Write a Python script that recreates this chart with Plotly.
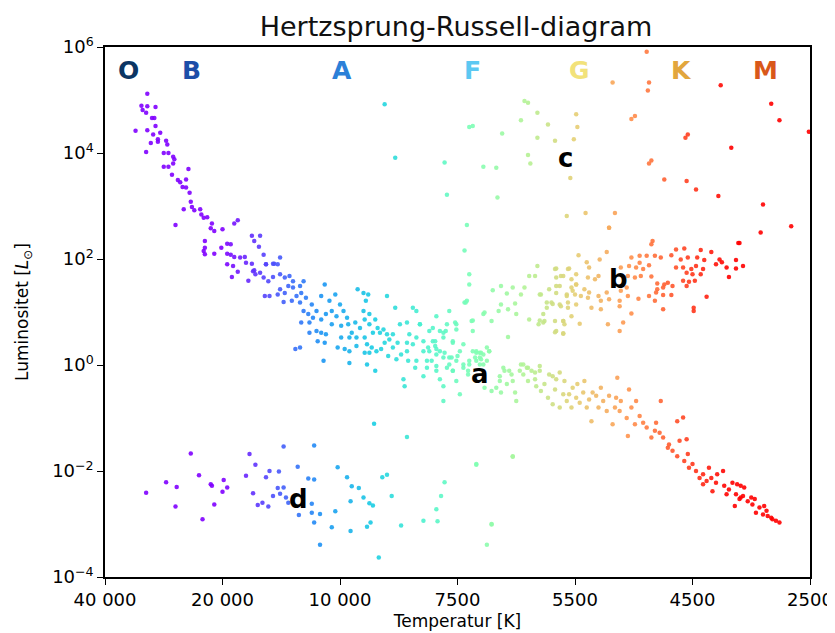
import numpy as np
import plotly.graph_objects as go

# x = position on the spectral/temperature scale (0 = 40 000 K ... 6 = 2500 K)
# y = log10 of luminosity in solar units
tick_pos = [0, 1, 2, 3, 4, 5, 6]
tick_labels = ["40 000", "20 000", "10 000", "7500", "5500", "4500", "2500"]
ytick_exp = [-4, -2, 0, 2, 4, 6]

ms_hot = [(.36,5.12),(.31,4.89),(.36,4.88),(.43,4.87),(.32,4.81),(.35,4.76),(.40,4.66),(.42,4.66),
    (.43,4.51),(.26,4.42),(.36,4.43),(.41,4.35),(.47,4.38),(.45,4.26),(.45,4.21),(.39,4.19),(.52,4.23),
    (.53,4.16),(.35,4.02),(.50,4.0),(.54,4.0),(.58,3.93),(.59,3.88),(.58,3.80),(.50,3.74),(.54,3.74),
    (.71,3.70),(.57,3.59),(.62,3.49),(.64,3.45),(.69,3.50),(.66,3.36),(.69,3.35),(.72,3.25),(.73,3.08),
    (.74,2.98),(.76,2.92),(.67,2.94),(.81,2.94),(.82,2.84),(.84,2.78),(.87,2.79),(.60,2.64),(.91,2.67),
    (.90,2.58),(.93,2.53),(1.0,2.56),(1.10,2.67),(1.13,2.73),(.85,2.34),(.85,2.21),(.85,2.09),(.84,2.15),
    (.93,2.1),(.99,2.21),(1.04,2.29),(1.07,2.28),(1.04,2.10),(1.07,2.08),(1.10,2.04),(1.15,2.03),
    (1.19,2.04),(1.25,2.44),(1.32,2.44),(1.27,2.34),(1.31,2.23),(1.35,2.08),(1.20,1.93),(1.25,1.91),
    (1.04,1.90),(1.09,1.87),(1.13,1.76),(1.08,1.66),(1.27,1.79),(1.28,1.71),(1.22,1.59),(1.37,1.90),
    (1.44,1.91),(1.49,2.03)]

ms_mid = [(1.26,1.77),(1.32,1.74),(1.37,1.90),(1.43,1.91),(1.47,1.90),(1.35,1.65),(1.39,1.58),(1.43,1.66),
    (1.49,1.71),(1.53,1.65),(1.57,1.68),(1.60,1.58),(1.56,1.49),(1.49,1.43),(1.60,1.46),(1.66,1.49),
    (1.69,1.58),(1.67,1.36),(1.63,1.30),(1.59,1.21),(1.52,1.19),(1.47,1.33),(1.40,1.30),(1.36,1.30),
    (1.53,1.36),(1.66,1.18),(1.71,1.27),(1.76,1.14),(1.69,1.02),(1.73,0.96),(1.77,0.89),(1.74,0.80),
    (1.67,0.80),(1.80,1.02),(1.84,1.30),(1.87,1.52),(1.91,1.21),(1.96,1.33),(2.00,1.14),(1.93,1.02),
    (1.88,0.96),(1.84,0.86),(1.80,0.64),(1.84,0.61),(1.88,0.58),(1.81,0.45),(1.87,0.42),(1.74,0.61),
    (1.93,0.77),(1.97,0.92),(2.03,1.02),(2.06,0.89),(2.01,0.74),(2.07,0.77),(2.10,0.61),(2.01,0.52),
    (2.08,0.52),(1.98,0.33),(2.04,0.30),(2.08,0.26),(2.14,0.36),(2.14,0.52),(2.17,0.70),(2.13,0.80),
    (2.15,1.43),(2.20,1.36),(2.24,1.33),(2.22,1.21),(2.20,1.02),(2.25,0.96),(2.21,0.86),(2.25,0.77),
    (2.30,0.86),(2.32,0.70),(2.28,0.61),(2.34,0.61),(2.37,0.67),(2.40,0.58),(2.21,0.52),(2.23,0.39),
    (2.27,0.33),(2.21,0.23),(2.25,0.23),(2.31,0.26),(2.35,0.30),(2.38,0.42),(2.42,0.48),(2.45,0.58),
    (2.47,1.08),(2.40,1.30),(2.51,0.77),(2.57,0.80),(2.59,0.58),(2.65,0.52),(2.62,0.39),(2.57,0.42),
    (2.49,0.42),(2.45,0.33),(2.41,0.17),(2.48,0.11),(2.52,0.20),(2.57,0.26),(2.58,0.08),(2.65,0.08),
    (2.64,-0.05),(2.54,-0.27),(2.55,-0.40),(2.71,0.26),(2.71,0.45),(2.68,0.77),(2.76,0.64),(2.79,0.45),
    (2.75,0.33),(2.81,0.36),(2.82,0.20),(2.85,0.26),(2.88,0.14),(2.78,0.08),(2.74,-0.05),(2.71,-0.21),
    (2.82,-0.11),(2.85,-0.27),(2.88,-0.40),(2.93,0.14),(2.93,0.01),(2.96,-0.11),(2.99,-0.30),(3.02,-0.55),
    (2.99,0.08),(3.02,0.26),(2.96,0.42),(2.90,0.64),(2.88,0.61),(2.99,0.77),(2.93,1.02),(2.82,0.92),
    (3.08,1.21),(3.10,1.52),(3.12,0.83),(3.13,0.64),(3.16,0.23),(3.19,0.14),(3.22,0.20),(3.10,0.08),
    (3.05,-0.05),(3.09,-0.18),(3.22,0.01),(3.25,0.33),(3.22,0.96),(2.88,-0.68),(2.62,1.08),(2.65,1.02),
    (2.23,0.01),(2.30,-0.11),(2.08,0.04),(1.66,0.33),(1.62,0.30),(1.86,0.08),
    (2.68,0.77),(2.79,0.70),(2.85,0.64),(2.91,0.77),(2.98,0.80),(2.99,0.67),(2.88,0.52),(2.81,0.45),
    (2.96,0.45),(3.05,0.39),(2.76,0.26),(2.82,0.30),(2.89,0.23),(2.95,0.14),(3.00,0.17),(2.74,0.08),
    (2.82,-0.02),(2.91,-0.05),(2.96,-0.11),(3.13,0.26),(3.19,0.23),(3.20,0.11),(3.16,0.08),(3.27,0.26),
    (3.25,0.08),(3.05,0.01),(3.09,-0.11)]

ms_cool = [(3.16,0.26),(3.15,0.14),(3.20,0.23),(3.19,0.01),(3.27,0.26),(3.10,0.01),(3.23,-0.43),
    (3.29,-0.49),(3.33,-0.43),(3.36,-0.30),(3.37,-0.52),(3.42,-0.36),(3.46,-0.18),(3.47,-0.30),
    (3.49,-0.52),(3.50,-0.68),(3.54,0.01),(3.56,-0.18),(3.59,-0.05),(3.60,-0.30),(3.63,-0.11),
    (3.66,-0.27),(3.67,-0.40),(3.70,-0.02),(3.71,-0.49),(3.74,-0.36),(3.77,-0.62),(3.78,-0.18),
    (3.81,-0.74),(3.83,-0.46),(3.84,-0.27),(3.87,-0.80),(3.90,-0.55),(3.91,-0.30),(3.93,-0.68),
    (3.95,-0.55),(3.97,-0.80),(3.98,-0.43),(4.01,-0.62),(4.02,-0.36),(4.04,-0.71),(4.07,-0.52),
    (4.08,-0.30),(4.10,-0.80),(4.12,-0.65),(4.14,-1.06),(4.15,-0.52),(4.18,-0.58),(4.20,-0.80),
    (4.22,-0.43),(4.24,-0.68),(4.27,-0.87),(4.29,-0.58),(4.32,-1.12),(4.34,-0.80),(4.35,-0.62),
    (4.36,-0.24),(4.38,-0.87),(4.39,-0.68),(4.44,-1.0),(4.45,-1.34),(4.46,-0.46),(4.48,-0.80),
    (4.51,-1.12),(4.52,-0.68),(4.55,-0.96),(4.58,-1.09),(4.61,-1.18),(4.65,-1.37),(4.68,-1.24),
    (4.69,-1.09),(4.72,-1.28),(4.73,-0.68),(4.75,-1.37),(4.79,-1.56),(4.80,-1.50),(4.83,-1.62),
    (4.87,-1.72),(4.87,-1.06),(4.92,-0.99),(4.89,-1.43),(4.93,-1.81),(4.95,-1.40),(4.96,-1.68),
    (4.97,-1.94),(5.00,-1.87),(5.03,-2.00),(5.06,-2.13),(5.09,-2.06),(5.12,-2.19),(5.14,-1.94),
    (5.16,-2.13),(5.20,-2.22),(5.21,-2.06),(5.26,-2.00),(5.27,-2.28),(5.31,-2.35),(5.34,-2.22),
    (5.37,-2.44),(5.38,-2.25),(5.41,-2.50),(5.43,-2.47),(5.44,-2.31),(5.47,-2.57),(5.51,-2.63),
    (5.53,-2.53),(5.54,-2.79),(5.57,-2.69),(5.60,-2.82),(5.63,-2.75),(5.64,-2.85),(5.67,-2.88),
    (5.68,-2.91),(5.71,-2.94),(5.74,-2.97),(5.61,-2.66),(5.50,-2.50),(5.41,-2.28),(5.17,-2.38),
    (5.09,-2.25),(5.29,-2.44),(5.36,-2.66),(5.40,-2.53),(3.39,-0.05),(3.44,-0.11),
    (3.56,0.01),(3.60,-0.05),(3.53,-0.11),(3.66,-0.14),(3.70,-0.11),(3.40,-0.11),(3.36,-0.21),
    (3.81,-0.21),(3.87,-0.14)]

giants = [(3.68,1.87),(3.84,1.82),(3.95,1.82),(4.01,1.71),(3.61,1.68),(3.66,1.68),(3.90,1.68),
    (3.37,1.49),(3.47,1.46),(3.57,1.46),(3.84,1.49),(3.97,1.46),(4.01,1.52),(3.30,1.41),(3.42,1.35),
    (3.54,1.33),(3.71,1.33),(3.84,1.36),(3.93,1.33),(4.00,1.33),(3.07,1.18),(3.37,1.14),(3.49,1.16),
    (3.76,1.18),(3.80,1.18),(3.87,1.14),(3.94,1.18),(4.01,1.14),(3.43,1.05),(3.50,0.96),(3.61,0.86),
    (3.70,0.84),(3.74,0.83),(3.83,0.83),(3.90,0.83),(3.97,0.92),(3.23,0.99),(3.13,0.84),(3.29,0.83),
    (3.35,1.02),(3.84,0.64),(3.90,0.59),(3.43,0.53),(3.69,0.77),
    (4.29,2.59),(4.66,2.34),(4.65,2.28),(4.86,2.18),(4.93,2.20),(5.07,2.17),(5.16,2.13),(5.39,2.30),
    (4.48,2.03),(4.55,2.06),(4.61,2.06),(4.68,2.06),(4.73,2.03),(4.82,2.07),(4.90,1.99),(4.96,2.03),
    (5.04,2.03),(5.10,1.98),(5.23,1.99),(5.25,1.94),(5.37,1.98),(5.20,1.90),(4.21,1.99),(4.10,1.94),
    (4.03,2.07),(4.27,2.13),(4.39,1.84),(4.46,1.87),(4.52,1.84),(4.58,1.81),(4.63,1.88),(4.55,1.93),
    (4.86,1.84),(4.92,1.84),(4.99,1.81),(5.03,1.87),(5.09,1.81),(4.95,1.74),(5.00,1.71),(5.07,1.71),
    (5.29,1.84),(5.37,1.82),(5.43,1.87),(5.31,1.66),(4.45,1.68),(4.51,1.65),(4.56,1.68),(4.65,1.67),
    (4.70,1.54),(4.76,1.52),(4.79,1.55),(4.83,1.49),(4.70,1.43),(4.75,1.46),(4.92,1.59),(4.97,1.57),
    (5.02,1.59),(4.95,1.49),(4.44,1.46),(4.39,1.40),(4.45,1.30),(4.54,1.25),(4.63,1.30),(4.69,1.37),
    (4.75,1.32),(4.82,1.32),(4.68,1.21),(5.12,1.29),(4.75,1.05),(5.01,1.08),(5.01,1.02),(4.38,1.21),
    (4.38,1.11),(4.48,0.97),(4.41,0.80),(4.28,0.77),(4.38,0.64),(4.12,1.84),(4.17,1.62),(4.11,1.65),
    (4.20,1.68),(4.08,1.43),(4.12,1.37),(4.05,1.30),(4.11,1.27),(4.20,1.30),(4.22,1.21),(4.27,1.37),
    (4.29,1.24),(4.14,1.08),(4.22,1.05),(4.04,0.78),(3.94,1.81),(3.97,1.62),(4.01,1.52),(3.98,1.40),
    (3.93,1.30),(3.87,1.49),(3.88,1.68),(3.83,1.81),(3.84,1.65),(3.78,1.43),(3.81,1.15),(3.88,1.11),
    (3.94,1.08),(3.76,1.08),(3.73,0.96),(3.90,0.83),(3.91,0.77),(3.83,0.62),(3.90,0.60),(3.73,0.80),
    (3.70,1.33)]

supergiants = [(4.61,5.91),(4.32,5.33),(4.63,5.33),(4.62,5.18),(5.24,5.28),(5.67,4.93),(5.74,4.62),
    (5.99,4.40),(3.57,4.98),(3.60,4.95),(4.01,4.73),(3.68,4.76),(3.54,4.62),(3.77,4.54),(4.02,4.49),
    (3.13,4.51),(3.10,4.49),(3.38,4.37),(3.68,4.29),(3.83,4.23),(3.99,4.26),(4.51,4.70),(4.48,4.64),
    (4.96,4.35),(4.94,4.29),(5.33,4.10),(3.60,3.96),(3.62,3.80),(2.89,3.82),(3.22,3.74),(3.33,3.72),
    (3.96,3.53),(4.65,3.86),(4.63,3.80),(4.76,3.50),(4.95,3.47),(5.03,3.31),(5.22,3.19),(5.60,3.03),
    (5.84,2.62),(5.58,2.50),(5.40,2.30),(2.91,3.21),(3.34,3.16),(3.08,2.64),(3.06,2.16),(3.93,2.81),
    (4.09,2.87),(4.34,2.87),(4.29,2.59),(3.10,1.71),(3.06,1.18),(2.38,4.92),(2.47,3.91)]

dwarfs = [(0.35,-2.41),(0.52,-2.21),(0.61,-2.30),(0.60,-2.67),(0.73,-1.67),(0.80,-2.08),(0.90,-2.25),
    (0.91,-2.28),(0.83,-2.91),(1.01,-2.17),(1.04,-2.31),(1.00,-2.39),(0.93,-2.63),(1.23,-1.68),
    (1.28,-1.88),(1.20,-2.09),(1.26,-2.42),(1.30,-2.64),(1.34,-2.60),(1.37,-2.12),(1.40,-2.00),
    (1.39,-2.67),(1.43,-2.47),(1.48,-2.01),(1.47,-2.32),(1.49,-2.43),(1.52,-1.54),(1.52,-2.31),
    (1.54,-2.50),(1.56,-2.60),(1.64,-1.92),(1.65,-2.83),(1.73,-2.14),(1.78,-2.16),(1.76,-2.62),
    (1.78,-1.52),(1.76,-2.79),(1.78,-2.97),(1.83,-3.39),(1.83,-2.81),(1.93,-3.06),(1.96,-2.76),
    (1.98,-1.93),(2.06,-2.12),(2.09,-2.57),(2.09,-3.13),(2.10,-2.29),(2.16,-2.32),(2.20,-2.50),
    (2.23,-3.05),(2.26,-2.97),(2.25,-2.61),(2.28,-2.65),(2.29,-1.11),(2.33,-3.63),(2.36,-2.12),
    (2.40,-2.07),(2.44,-2.47),(2.52,-3.03),(2.57,-1.36),(2.71,-2.94),(2.83,-2.95),(2.82,-2.72),
    (2.86,-2.47),(2.89,-2.21),(3.16,-1.88),(3.29,-3.00),(3.25,-3.39),(3.47,-1.73),(3.16,-1.87),
    (3.47,-1.72),(3.29,-3.01)]

spectral_classes = ["O", "B", "A", "F", "G", "K", "M"]
spectral_x = [0.2, 0.74, 2.02, 3.13, 4.04, 4.91, 5.62]
spectral_colors = ["#0b3563", "#1c4ea8", "#2c80d8", "#5cc8f2", "#f2e27a", "#e2a63e", "#d9581a"]

region_labels = ["a", "b", "c", "d"]
region_x = [3.19, 4.37, 3.92, 1.65]
region_logL = [-0.17, 1.62, 3.91, -2.53]

rainbow = [[0.0, "rgb(128,0,255)"], [0.1, "rgb(77,79,252)"], [0.2, "rgb(26,150,243)"],
           [0.3, "rgb(26,206,227)"], [0.4, "rgb(77,243,206)"], [0.5, "rgb(128,255,180)"],
           [0.6, "rgb(179,243,150)"], [0.7, "rgb(230,206,116)"], [0.8, "rgb(255,150,79)"],
           [0.9, "rgb(255,79,40)"], [1.0, "rgb(255,0,0)"]]

pts = ms_hot + ms_mid + ms_cool + giants + supergiants + dwarfs
xs = np.array([p[0] for p in pts])
lum = 10.0 ** np.array([p[1] for p in pts])

fig = go.Figure()
fig.add_trace(go.Scatter(
    x=xs, y=lum, mode="markers",
    marker=dict(size=4.5, color=xs, colorscale=rainbow, cmin=1.0, cmax=5.3,
                opacity=0.9, line=dict(width=0)),
    showlegend=False, hoverinfo="skip"))

font_family = "DejaVu Sans"
annotations = []
for s, x, c in zip(spectral_classes, spectral_x, spectral_colors):
    annotations.append(dict(x=x, y=5.55, xref="x", yref="y", text="<b>%s</b>" % s,
                            showarrow=False, font=dict(size=25, color=c, family=font_family)))
for s, x, y in zip(region_labels, region_x, region_logL):
    annotations.append(dict(x=x, y=y, xref="x", yref="y", text="<b>%s</b>" % s,
                            showarrow=False, font=dict(size=26, color="black", family=font_family)))

yticktext = ["10<sup>%s</sup>" % (str(e).replace("-", "\u2212")) for e in ytick_exp]

fig.update_layout(
    width=827, height=625,
    margin=dict(l=97, r=25, t=39, b=56, autoexpand=False),
    paper_bgcolor="white", plot_bgcolor="white",
    font=dict(family=font_family, color="black", size=17),
    title=dict(text="Hertzsprung-Russell-diagram", x=0.5417, xanchor="center",
               y=0.970, yanchor="middle", font=dict(size=27, family=font_family, color="#111")),
    annotations=annotations,
    xaxis=dict(range=[0, 6], tickmode="array", tickvals=tick_pos, ticktext=tick_labels,
               automargin=False,
               showgrid=False, zeroline=False, showline=True, linecolor="black", linewidth=1.5,
               mirror=True, ticks="outside", ticklen=6, tickwidth=1.3, tickcolor="black",
               tickfont=dict(size=18), title=dict(text="Temperatur [K]", font=dict(size=17), standoff=6)),
    yaxis=dict(type="log", range=[-4, 6], tickmode="array", automargin=False,
               tickvals=[10.0 ** e for e in ytick_exp], ticktext=yticktext,
               showgrid=False, zeroline=False, showline=True, linecolor="black", linewidth=1.5,
               mirror=True, ticks="outside", ticklen=6, tickwidth=1.3, tickcolor="black",
               tickfont=dict(size=18),
               title=dict(text="Luminositet [<i>L</i><sub>\u2299</sub>]", font=dict(size=17), standoff=19)),
)

fig.write_html("out.html")
